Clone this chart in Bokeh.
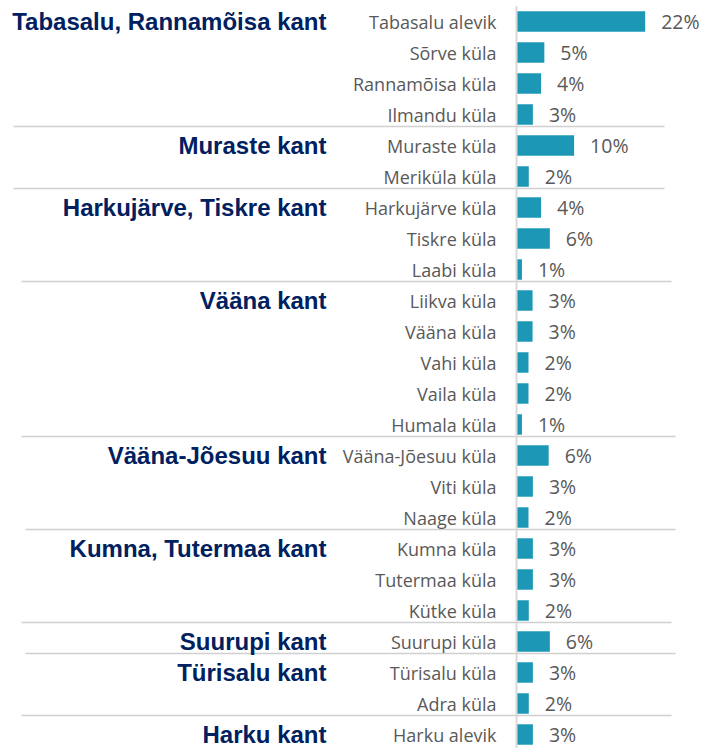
from bokeh.plotting import figure
from bokeh.models import Range1d, ColumnDataSource
from bokeh.core.properties import value
from bokeh.embed import file_html
from bokeh.resources import INLINE

# ---- data ----
groups = ["Tabasalu, Rannamõisa kant", "Muraste kant", "Harkujärve, Tiskre kant",
          "Vääna kant", "Vääna-Jõesuu kant", "Kumna, Tutermaa kant",
          "Suurupi kant", "Türisalu kant", "Harku kant"]
group_sizes = [4, 2, 3, 5, 3, 3, 1, 2, 1]
villages = ["Tabasalu alevik", "Sõrve küla", "Rannamõisa küla", "Ilmandu küla",
            "Muraste küla", "Meriküla küla",
            "Harkujärve küla", "Tiskre küla", "Laabi küla",
            "Liikva küla", "Vääna küla", "Vahi küla", "Vaila küla", "Humala küla",
            "Vääna-Jõesuu küla", "Viti küla", "Naage küla",
            "Kumna küla", "Tutermaa küla", "Kütke küla",
            "Suurupi küla",
            "Türisalu küla", "Adra küla",
            "Harku alevik"]
shares = [22.0, 4.76, 4.2, 2.8,
          9.85, 2.1,
          4.2, 5.7, 0.93,
          2.75, 2.75, 2.05, 2.05, 0.93,
          5.5, 2.8, 2.05,
          2.8, 2.8, 2.1,
          5.7,
          2.8, 2.1,
          2.8]
labels = ["22%", "5%", "4%", "3%",
          "10%", "2%",
          "4%", "6%", "1%",
          "3%", "3%", "2%", "2%", "1%",
          "6%", "3%", "2%",
          "3%", "3%", "2%",
          "6%",
          "3%", "2%",
          "3%"]

# ---- layout ----
W, H = 700, 748
ROW = 31.0          # px per row
TOP = 21            # canvas y of first row centre
AXIS_X = 516        # canvas x of value axis
SCALE = 5.85        # px per percent

rows = list(range(len(villages)))

p = figure(width=W, height=H, output_backend="svg", toolbar_location=None,
           x_range=Range1d(-AXIS_X / SCALE, (W - AXIS_X) / SCALE),
           y_range=Range1d((H - TOP) / ROW, -TOP / ROW),
           x_axis_location=None, y_axis_location=None,
           min_border=0, min_border_left=0, min_border_right=0,
           min_border_top=0, min_border_bottom=0,
           outline_line_color=None, background_fill_color="white",
           border_fill_color="white")
p.grid.visible = False

# separators between groups
bounds = []
acc = 0
for s in group_sizes[:-1]:
    acc += s
    bounds.append(acc - 1 + 0.39)
sep_x0 = [13, 13, 21, 21, 25, 21, 25, 21]
sep_x1 = [664, 664, 671, 675, 675, 671, 675, 671]
p.segment(x0=[(a - AXIS_X) / SCALE for a in sep_x0], x1=[(b - AXIS_X) / SCALE for b in sep_x1],
          y0=bounds, y1=bounds, line_color="#D0D0D0", line_width=1.5)

src = ColumnDataSource(dict(y=rows, v=shares, name=villages, lab=labels))
p.hbar(y="y", left=0, right="v", height=0.66, source=src,
       fill_color="#1C98B6", line_color=None)

# vertical axis line
p.segment(x0=[0], x1=[0], y0=[-0.5], y1=[len(villages) + 1],
          line_color="#D9D9D9", line_width=2)

p.text(x=0, y="y", text="name", source=src, text_align="right",
       text_baseline="middle", x_offset=-20, y_offset=0,
       text_font=value("Open Sans"), text_font_size="18px", text_color="#595959")

p.text(x="v", y="y", text="lab", source=src, text_align="left",
       text_baseline="middle", x_offset=16, y_offset=0,
       text_font=value("Open Sans"), text_font_size="19.5px", text_color="#595959")

starts = []
acc = 0
for s in group_sizes:
    starts.append(acc)
    acc += s
gsrc = ColumnDataSource(dict(y=starts, g=groups))
p.text(x=0, y="y", text="g", source=gsrc, text_align="right",
       text_baseline="middle", x_offset=-190, y_offset=0,
       text_font=value("Liberation Sans"), text_font_style="bold",
       text_font_size="24px", text_color="#002060")

open("out.html", "w").write(file_html(p, INLINE))
